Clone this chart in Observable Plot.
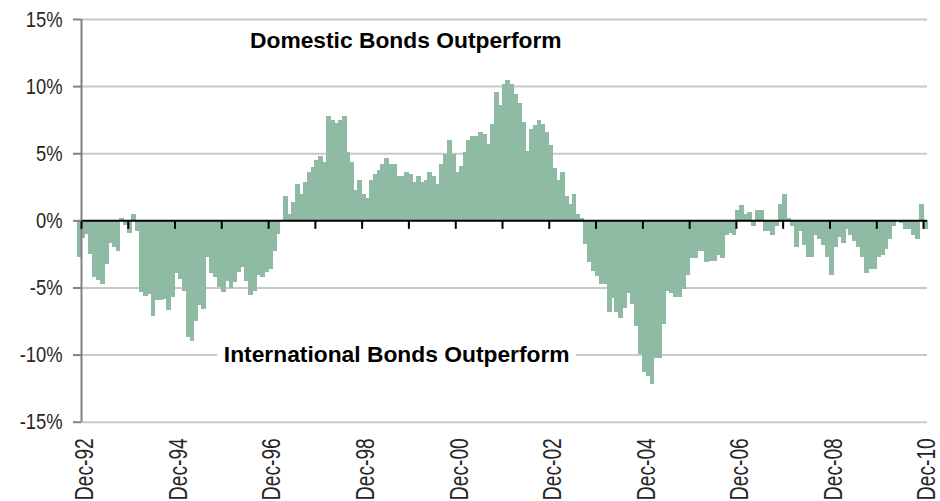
<!DOCTYPE html>
<html>
<head>
<meta charset="utf-8">
<script src="https://cdn.jsdelivr.net/npm/d3@7"></script>
<script src="https://cdn.jsdelivr.net/npm/@observablehq/plot@0.6"></script>
<style>
  html, body { margin: 0; padding: 0; background: #fff; }
</style>
</head>
<body>
<div id="chart"></div>
<script>
// Monthly relative return (%) — first value is Nov-92, last is Dec-10
const v1992 = [-2.66, -1.27];
const v1993 = [-0.97, -2.46, -4.15, -4.40, -4.70, -3.20, -1.62, -1.92, -2.21, 0.17, -0.28, -0.87];
const v1994 = [0.47, -0.72, -5.32, -5.62, -5.44, -7.11, -5.89, -5.89, -5.81, -6.66, -5.64, -3.85];
const v1995 = [-4.30, -5.19, -8.62, -8.92, -7.43, -6.24, -6.53, -2.66, -3.90, -4.15, -4.90, -5.32];
const v1996 = [-4.45, -5.02, -4.59, -3.83, -3.41, -4.45, -5.49, -5.19, -4.00, -4.15, -3.83, -3.56];
const v1997 = [-2.21, -0.97, 0.0, 1.81, 0.47, 1.36, 2.70, 1.96, 2.85, 3.60, 3.90, 4.49];
const v1998 = [4.79, 4.34, 7.77, 7.47, 7.23, 7.47, 7.77, 5.09, 4.34, 2.26, 3.00, 1.89];
const v1999 = [1.66, 3.00, 3.45, 3.75, 4.19, 4.64, 4.19, 4.19, 3.30, 3.30, 3.60, 3.38];
const v2000 = [2.85, 3.30, 2.85, 3.00, 3.60, 3.30, 2.70, 4.19, 4.94, 5.98, 4.94, 3.60];
const v2001 = [4.04, 5.09, 5.98, 6.28, 6.28, 6.58, 6.43, 5.68, 7.17, 9.56, 8.52, 10.15];
const v2002 = [10.45, 10.15, 9.41, 8.67, 7.32, 5.14, 6.75, 7.05, 7.47, 7.17, 6.53, 5.54];
const v2003 = [3.87, 3.00, 3.60, 1.81, 1.21, 1.96, 0.47, 0.14, -1.71, -3.06, -3.70, -4.10];
const v2004 = [-4.70, -4.70, -6.78, -5.74, -6.78, -7.23, -6.48, -5.34, -6.18, -7.82, -9.91, -11.25];
const v2005 = [-11.55, -12.15, -10.21, -10.21, -7.67, -5.19, -5.34, -5.64, -5.64, -5.04, -4.00, -2.76];
const v2006 = [-2.76, -2.21, -2.21, -3.06, -2.96, -2.96, -2.51, -2.76, -1.02, -0.87, -1.02, 0.77];
const v2007 = [1.07, 0.47, 0.62, -0.42, 0.77, 0.77, -0.72, -0.72, -1.02, -0.42, 1.21, 1.96];
const v2008 = [0.17, -0.42, -1.92, -0.72, -1.77, -2.66, -2.66, -1.02, -1.35, -1.77, -2.66, -4.00];
const v2009 = [-1.92, -1.17, -1.62, -0.57, -1.02, -1.47, -1.92, -2.66, -3.85, -3.56, -3.56, -2.66];
const v2010 = [-2.51, -2.06, -1.32, -0.42, 0.0, -0.13, -0.57, -0.57, -1.02, -1.32, 1.21, -0.57];

const yTicks = [-15, -10, -5, 0, 5, 10, 15];
const gridValues = [-15, -10, -5, 5, 10, 15];
const tickYears = [1992, 1993, 1994, 1995, 1996, 1997, 1998, 1999, 2000, 2001,
                   2002, 2003, 2004, 2005, 2006, 2007, 2008, 2009, 2010];
const labelYears = [1992, 1994, 1996, 1998, 2000, 2002, 2004, 2006, 2008, 2010];
const annotationLabels = ["Domestic Bonds Outperform", "International Bonds Outperform"];
const annotationDates = ["1999-11-07", "1999-08-28"];
const annotationValues = [12.87, -10.55];

const values = [].concat(v1992, v1993, v1994, v1995, v1996, v1997, v1998, v1999, v2000,
  v2001, v2002, v2003, v2004, v2005, v2006, v2007, v2008, v2009, v2010);
const data = values.map((v, i) => ({date: new Date(Date.UTC(1992, 10 + i, 1)), value: v}));
const tickDates = tickYears.map(y => new Date(Date.UTC(y, 11, 1)));
const labelDates = labelYears.map(y => new Date(Date.UTC(y, 11, 1)));
const annotations = annotationLabels.map((label, i) => ({
  label, date: new Date(annotationDates[i] + "T00:00:00Z"), value: annotationValues[i]
}));

const xStart = new Date(Date.UTC(1992, 11, 1));
const xEnd = new Date(Date.UTC(2011, 0, 1));
const barColor = "#8fbaa4";
const font = "'Liberation Sans', Arial, sans-serif";
const xLabelFormat = d3.utcFormat("%b-%y");

const chart = Plot.plot({
  width: 940,
  height: 501,
  marginLeft: 81,
  marginRight: 13,
  marginTop: 19,
  marginBottom: 79.3,
  style: {fontFamily: font, fontSize: "22px", color: "#262626", background: "#fff"},
  x: {type: "utc", domain: [xStart, xEnd], axis: null},
  y: {domain: [-15, 15], axis: null},
  marks: [
    Plot.ruleY(gridValues, {stroke: "#c8c8c8", strokeWidth: 2}),
    Plot.rectY(data, {x: "date", y: "value", interval: "month", inset: 0,
      fill: barColor, stroke: barColor, strokeWidth: 1, shapeRendering: "crispEdges"}),
    Plot.ruleY([0], {stroke: "#000", strokeWidth: 2}),
    Plot.ruleX([xStart], {stroke: "#808080", strokeWidth: 2}),
    Plot.ruleX(tickDates, {x: d => d, y1: 0, y2: 0, insetBottom: -8.5, stroke: "#000", strokeWidth: 2}),
    Plot.axisY(yTicks, {label: null, tickSize: 8, tickPadding: 11, tickFormat: d => d + "%", stroke: "#808080",
      strokeWidth: 2, fill: "#262626", fontSize: 22, fontFamily: font}),
    Plot.text(labelDates, {x: d => d, frameAnchor: "bottom", rotate: -90, textAnchor: "end",
      lineAnchor: "middle", dy: 16, dx: 3.5, text: xLabelFormat, fontSize: 26,
      fontFamily: font, fill: "#262626"}),
    Plot.text(annotations, {x: "date", y: "value", text: "label", lineAnchor: "bottom",
      fontFamily: font, fontWeight: "bold", fontSize: 22.8,
      fill: "#000", stroke: "#fff", strokeWidth: 16})
  ]
});
document.getElementById("chart").appendChild(chart);

// Narrow the axis lettering along the reading direction (the original uses a condensed face)
chart.querySelectorAll("text").forEach(t => {
  const s = t.textContent;
  let f = null;
  if (/^[A-Z][a-z]{2}-\d\d$/.test(s)) f = 0.74;
  else if (/%$/.test(s)) f = 0.835;
  if (f == null) return;
  const tr = t.getAttribute("transform") || "";
  t.setAttribute("transform", `${tr} scale(${f},1)`);
});
</script>
</body>
</html>
